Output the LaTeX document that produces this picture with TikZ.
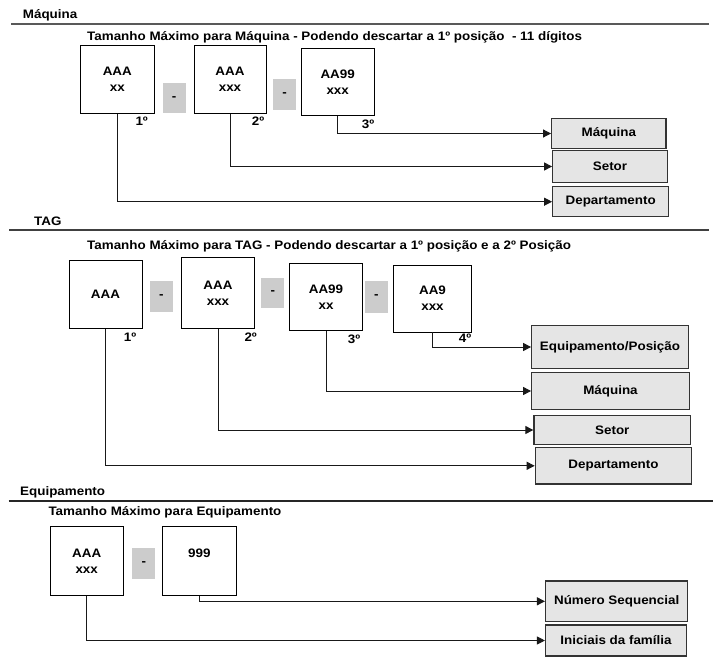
\documentclass[tikz,border=0pt]{standalone}
\usepackage{fontspec}
\setmainfont{Liberation Sans}[FakeStretch=1.09]
\usetikzlibrary{arrows.meta}
\begin{document}
\begin{tikzpicture}[x=1pt,y=-1pt,
  font=\fontsize{12.3}{16}\selectfont\bfseries,
  box/.style={draw=black, line width=0.9pt, fill=white, inner sep=0pt, align=center, text=black},
  sepbox/.style={fill=black!20, inner sep=0pt, minimum width=23pt, text=black},
  tgt/.style={draw=black!80, line width=1.2pt, fill=black!10, inner sep=0pt, text=black},
  conn/.style={line width=1pt, draw=black!90, -{Triangle[length=8pt,width=8pt]}},
  rulel/.style={line width=1.5pt, draw=black!65},
  ttl/.style={anchor=west, inner sep=0pt, text=black},
  ord/.style={inner sep=0pt, text=black}]
\useasboundingbox (0,0) rectangle (720,661);

% ---------------- Section 1: Maquina ----------------
\node[ttl] (title1) at (22.7,15) {Máquina};
\coordinate (r1a) at (11,24);
\coordinate (r1b) at (709,24);
\draw[rulel] (r1a) -- (r1b);
\node[ttl] (sub1) at (87,37.5) {Tamanho Máximo para Máquina - Podendo descartar a 1º posição~ - 11 dígitos};

\node[box, minimum width=73.3pt, minimum height=68pt] (a1) at (117.3,79.3) {AAA\\xx};
\node[sepbox, minimum height=30pt] (s11) at (174.2,98.3) {-};
\node[box, minimum width=72pt, minimum height=68pt] (a2) at (230,79.3) {AAA\\xxx};
\node[sepbox, minimum height=31pt] (s12) at (284.7,94.5) {-};
\node[box, minimum width=73.3pt, minimum height=66.7pt] (a3) at (337.7,82.3) {AA99\\xxx};

\node[ord] (o11) at (141.7,121) {1º};
\node[ord] (o12) at (258,121) {2º};
\node[ord] (o13) at (368,124) {3º};

\node[tgt, minimum width=114.3pt, minimum height=30.4pt] (t11) at (608.8,133.5) {Máquina};
\node[tgt, minimum width=114.6pt, minimum height=31.6pt] (t12) at (610,166.5) {Setor};
\node[tgt, minimum width=116pt, minimum height=30pt] (t13) at (610.7,201.7) {Departamento};

\draw[conn] (a3.south) |- (t11.west);
\draw[conn] (a2.south) |- (t12.west);
\draw[conn] (a1.south) |- (t13.west);

% ---------------- Section 2: TAG ----------------
\node[ttl] (title2) at (34,221.7) {TAG};
\coordinate (r2a) at (9,230);
\coordinate (r2b) at (709,230);
\draw[rulel, line width=2pt, draw=black!75] (r2a) -- (r2b);
\node[ttl] (sub2) at (87,246.7) {Tamanho Máximo para TAG - Podendo descartar a 1º posição e a 2º Posição};

\node[box, minimum width=73pt, minimum height=67.6pt] (b1) at (105.5,294.5) {AAA};
\node[sepbox, minimum height=30.7pt] (s21) at (161.3,296.3) {-};
\node[box, minimum width=72.6pt, minimum height=71pt] (b2) at (218,292.8) {AAA\\xxx};
\node[sepbox, minimum height=30pt] (s22) at (272.8,292.7) {-};
\node[box, minimum width=73.4pt, minimum height=67.4pt] (b3) at (326,297) {AA99\\xx};
\node[sepbox, minimum height=31.7pt] (s23) at (376.3,296.8) {-};
\node[box, minimum width=78.4pt, minimum height=67pt] (b4) at (432.5,298.5) {AA9\\xxx};

\node[ord] (o21) at (130,337.5) {1º};
\node[ord] (o22) at (250.7,337.5) {2º};
\node[ord] (o23) at (354,339.5) {3º};
\node[ord] (o24) at (465,338.7) {4º};

\node[tgt, minimum width=156.6pt, minimum height=42.6pt] (t21) at (610,347) {Equipamento/Posição};
\node[tgt, minimum width=157.6pt, minimum height=36.6pt] (t22) at (610.5,391) {Máquina};
\node[tgt, minimum width=156.7pt, minimum height=28.6pt] (t23) at (612.3,430) {Setor};
\node[tgt, minimum width=156.4pt, minimum height=36.3pt] (t24) at (613.5,465.8) {Departamento};

\draw[conn] (b4.south) |- (t21.west);
\draw[conn] (b3.south) |- (t22.west);
\draw[conn] (b2.south) |- (t23.west);
\draw[conn] (b1.south) |- (t24.west);

% ---------------- Section 3: Equipamento ----------------
\node[ttl] (title3) at (20,492.7) {Equipamento};
\coordinate (r3a) at (8.5,501);
\coordinate (r3b) at (713,501);
\draw[rulel, draw=black!85] (r3a) -- (r3b);
\node[ttl] (sub3) at (48.3,512.7) {Tamanho Máximo para Equipamento};

\node[box, minimum width=73.3pt, minimum height=69pt] (c1) at (86.7,561.2) {AAA\\xxx};
\node[sepbox, minimum height=31.6pt] (s31) at (143.8,563.5) {-};
\node[box, minimum width=73.3pt, minimum height=69pt] (c2) at (199.3,561.2) {999\\\mbox{}};

\node[tgt, minimum width=142.3pt, minimum height=40.7pt] (t31) at (616.7,601.3) {Número Sequencial};
\node[tgt, minimum width=140.9pt, minimum height=31pt] (t32) at (616,640.5) {Iniciais da família};

\draw[conn] (c2.south) |- (t31.west);
\draw[conn] (c1.south) |- (t32.west);
\end{tikzpicture}
\end{document}
